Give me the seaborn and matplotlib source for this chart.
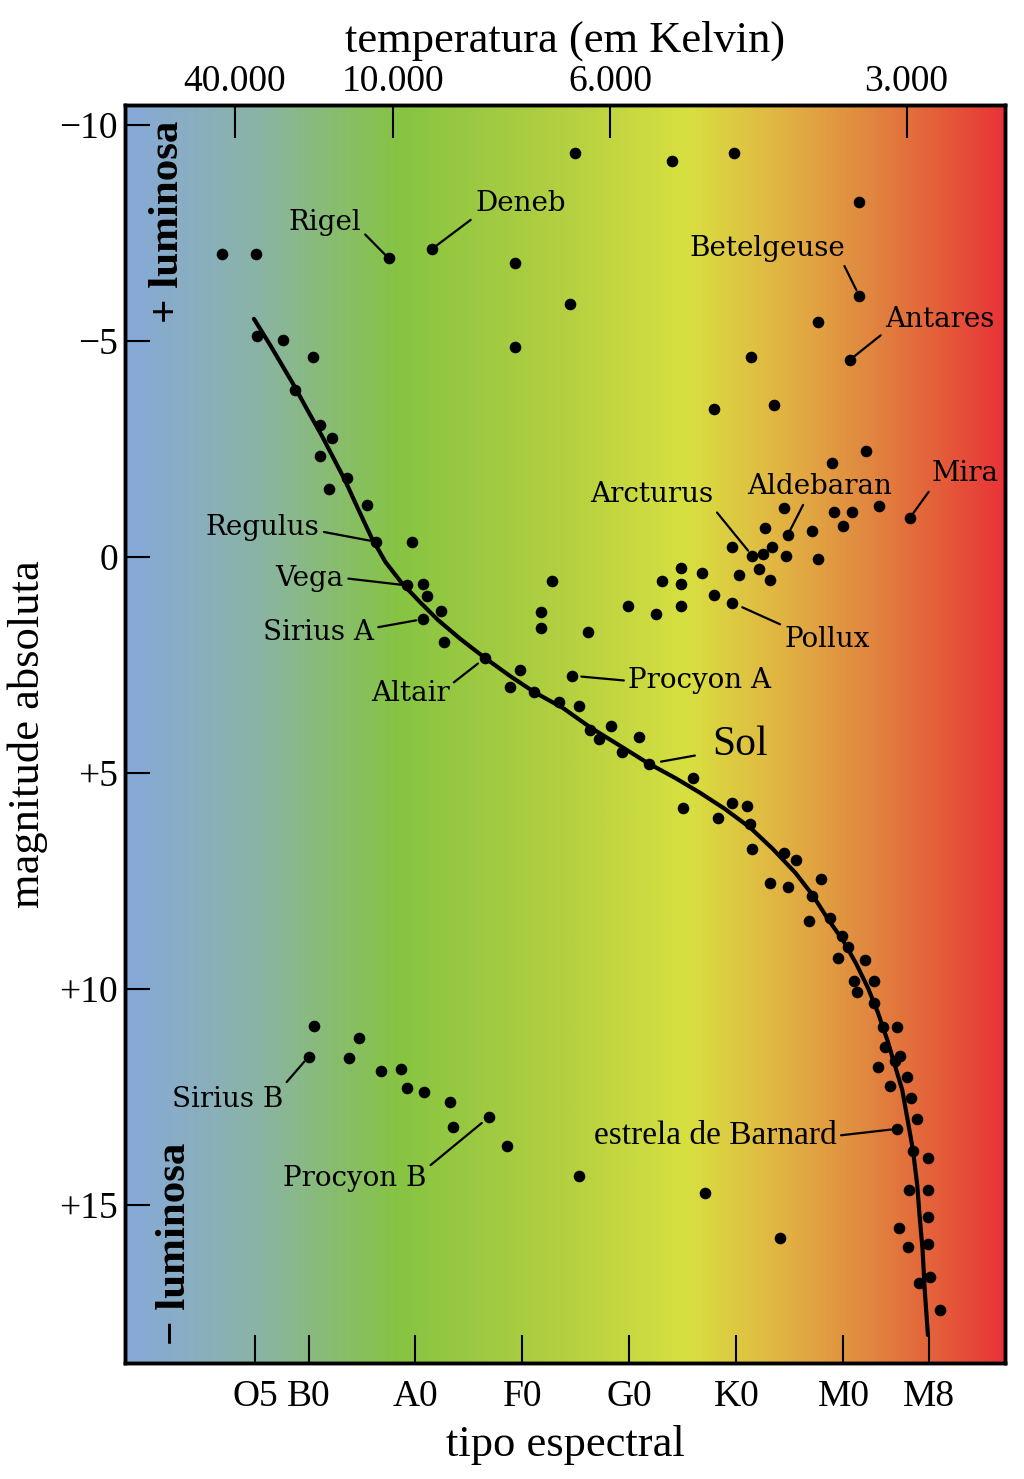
import matplotlib
matplotlib.use("Agg")
import matplotlib.pyplot as plt
import numpy as np
import pandas as pd
import seaborn as sns
from matplotlib.colors import LinearSegmentedColormap

# spectral class index: O0=0, B0=1, A0=2, F0=3, G0=4, K0=5, M0=6
SPEC_TICKS = [0.5, 1, 2, 3, 4, 5, 6, 6.8]
SPEC_LABELS = ["O5", "B0", "A0", "F0", "G0", "K0", "M0", "M8"]
TEMP_TICKS = [0.31, 1.79, 3.82, 6.59]
TEMP_LABELS = ["40.000", "10.000", "6.000", "3.000"]
MAG_TICKS = [-10, -5, 0, 5, 10, 15]
MAG_LABELS = ["\u221210", "\u22125", "0", "+5", "+10", "+15"]

# giants and supergiants
giant_x = [0.19, 0.51, 1.75, 2.15, 2.93, 2.93, 3.44, 3.49, 4.40, 4.98, 6.15, 6.15,
           5.76, 6.06, 5.14, 4.79, 5.35, 6.21, 5.89, 6.33, 6.62, 5.91, 6.08, 6.00,
           5.44, 5.27, 5.48, 5.71, 5.33, 4.96, 5.15, 5.25, 5.46, 5.76, 5.21, 5.31,
           5.02, 4.68, 4.48, 4.48, 4.30, 4.79, 4.96, 4.48, 4.25, 3.99, 3.61, 3.28,
           3.17, 3.17]
giant_mag = [-7.0, -7.0, -6.91, -7.12, -6.80, -4.87, -5.86, -9.36, -9.17, -9.34, -8.22, -6.03,
             -5.43, -4.56, -4.62, -3.42, -3.52, -2.46, -2.17, -1.18, -0.90, -1.03, -1.03, -0.72,
             -1.13, -0.66, -0.51, -0.61, -0.24, -0.24, -0.02, -0.07, -0.02, 0.05, 0.28, 0.53,
             0.42, 0.38, 0.26, 0.63, 0.56, 0.88, 1.06, 1.13, 1.32, 1.13, 1.74, 0.55,
             1.27, 1.64]

# main sequence stars
ms_x = [0.52, 0.76, 1.04, 0.87, 1.11, 1.22, 1.11, 1.36, 1.19, 1.55, 1.63, 1.97,
        1.92, 2.07, 2.11, 2.24, 2.07, 2.27, 2.65, 2.98, 2.88, 3.11, 3.34, 3.53,
        3.46, 3.63, 3.83, 3.72, 4.09, 3.93, 4.18, 4.59, 4.50, 4.96, 5.10, 4.83,
        5.13, 5.15, 5.44, 5.56, 5.31, 5.48, 5.79, 5.71, 5.68, 5.87, 5.99, 6.04,
        5.95, 6.20, 6.10, 6.29, 6.13, 6.29, 6.37, 6.50, 6.39, 6.53, 6.48, 6.32,
        6.59, 6.44, 6.63, 6.69, 6.50, 6.65, 6.79, 6.61, 6.79, 6.79, 6.52, 6.60,
        6.79, 6.81, 6.71, 6.90, 4.71, 5.41, 3.53]
ms_mag = [-5.12, -5.02, -4.62, -3.87, -3.06, -2.75, -2.34, -1.82, -1.58, -1.20, -0.35, -0.35,
          0.66, 0.63, 0.91, 1.25, 1.44, 1.98, 2.34, 2.62, 3.02, 3.12, 3.36, 3.44,
          2.75, 4.00, 3.91, 4.22, 4.16, 4.51, 4.79, 5.11, 5.81, 5.69, 5.76, 6.05,
          6.19, 6.76, 6.86, 7.01, 7.55, 7.63, 7.45, 7.86, 8.43, 8.36, 8.77, 9.02,
          9.28, 9.33, 9.81, 9.81, 10.08, 10.33, 10.87, 10.89, 11.34, 11.55, 11.68, 11.81,
          12.03, 12.25, 12.53, 13.01, 13.24, 13.75, 13.91, 14.65, 14.65, 15.28, 15.53, 15.97,
          15.91, 16.66, 16.80, 17.43, 14.72, 15.76, 14.34]

# white dwarfs
dwarf_x = [1.05, 1.00, 1.47, 1.38, 1.68, 1.86, 1.92, 2.08, 2.32, 2.35, 2.69, 2.86]
dwarf_mag = [10.85, 11.57, 11.13, 11.59, 11.89, 11.86, 12.30, 12.38, 12.62, 13.19, 12.96, 13.63]

# main sequence line
curve_x = [0.49, 0.64, 0.85, 0.99, 1.13, 1.34, 1.46, 1.59, 1.72, 1.87, 2.04, 2.21,
           2.42, 2.65, 2.88, 3.11, 3.38, 3.63, 3.93, 4.17, 4.43, 4.66, 4.89, 5.13,
           5.34, 5.55, 5.71, 5.86, 6.00, 6.12, 6.23, 6.32, 6.41, 6.48, 6.55, 6.60,
           6.65, 6.69, 6.71, 6.74, 6.76, 6.79]
curve_mag = [-5.51, -4.91, -4.03, -3.40, -2.78, -1.78, -1.13, -0.44, 0.12, 0.60, 1.04, 1.46,
             1.90, 2.34, 2.75, 3.13, 3.50, 3.94, 4.40, 4.77, 5.12, 5.46, 5.83, 6.27,
             6.76, 7.31, 7.82, 8.40, 8.89, 9.42, 9.98, 10.53, 11.18, 11.76, 12.34, 13.03,
             13.73, 14.54, 15.19, 16.04, 16.97, 18.01]

# named stars
star_names = ["Rigel", "Deneb", "Betelgeuse", "Antares", "Regulus", "Vega", "Sirius A",
              "Altair", "Procyon A", "Sol", "Arcturus", "Aldebaran", "Mira", "Pollux",
              "Sirius B", "Procyon B", "estrela de Barnard"]
star_x = [1.75, 2.15, 6.15, 6.06, 1.63, 1.92, 2.07, 2.65, 3.46, 4.18, 5.15, 5.48, 6.62,
          4.96, 1.00, 2.69, 6.50]
star_mag = [-6.91, -7.12, -6.03, -4.56, -0.35, 0.66, 1.44, 2.34, 2.75, 4.79, -0.02, -0.51,
            -0.90, 1.06, 11.57, 12.96, 13.24]

# label placement (data coords), leader start on text box, gap at the star (pt)
label_pos = {
    "Rigel": (1.15, -7.75), "Deneb": (2.98, -8.19), "Betelgeuse": (5.29, -7.15),
    "Antares": (6.90, -5.49), "Regulus": (0.57, -0.69), "Vega": (1.01, 0.49),
    "Sirius A": (1.09, 1.74), "Altair": (1.95, 3.17), "Procyon A": (4.66, 2.87),
    "Sol": (5.03, 4.35), "Arcturus": (4.21, -1.44), "Aldebaran": (5.78, -1.62),
    "Mira": (7.14, -1.92), "Pollux": (5.85, 1.92), "Sirius B": (0.24, 12.57),
    "Procyon B": (1.43, 14.38), "estrela de Barnard": (4.80, 13.40),
}
label_rel = {
    "Rigel": (1.0, 0.2), "Deneb": (0.0, 0.0), "Betelgeuse": (0.98, 0.0),
    "Antares": (0.0, 0.05), "Regulus": (1.0, 0.35), "Vega": (1.0, 0.5),
    "Sirius A": (1.0, 0.65), "Altair": (1.0, 0.8), "Procyon A": (0.0, 0.5),
    "Sol": (0.0, 0.3), "Arcturus": (1.0, 0.0), "Aldebaran": (0.4, 0.0),
    "Mira": (0.0, 0.0), "Pollux": (0.0, 1.0), "Sirius B": (1.0, 1.0),
    "Procyon B": (1.0, 0.85), "estrela de Barnard": (1.0, 0.5),
}
label_gap = {
    "Rigel": 2.5, "Deneb": 2.5, "Betelgeuse": 5, "Antares": 3, "Regulus": 4,
    "Vega": 4, "Sirius A": 5, "Altair": 6.5, "Procyon A": 7, "Sol": 9,
    "Arcturus": 5, "Aldebaran": 4, "Mira": 3, "Pollux": 8, "Sirius B": 4.5,
    "Procyon B": 7, "estrela de Barnard": 4,
}

XLIM = (-0.715, 7.51)
YLIM = (18.66, -10.46)

sns.set_style("ticks")
plt.rcParams["font.family"] = ["Liberation Serif", "DejaVu Serif"]
plt.rcParams.update({"text.color": "black", "axes.labelcolor": "black",
                     "xtick.color": "black", "ytick.color": "black"})

fig = plt.figure(figsize=(10.24, 14.79), dpi=100)
ax = fig.add_axes([0.1221, 0.0784, 0.8593, 0.8506])

bg = LinearSegmentedColormap.from_list("spec", [
    (0.0, "#87a9da"), (0.15, "#8ab4a6"), (0.31, "#86c443"), (0.50, "#b4d040"),
    (0.64, "#d8e040"), (0.75, "#e2b243"), (0.84, "#e08a40"), (0.93, "#e45c3a"),
    (1.0, "#e83338")])
ax.imshow(np.linspace(0, 1, 512)[None, :], aspect="auto", cmap=bg,
          extent=(0, 1, 0, 1), transform=ax.transAxes, zorder=0)

stars = pd.concat([
    pd.DataFrame({"x": giant_x, "mag": giant_mag}),
    pd.DataFrame({"x": ms_x, "mag": ms_mag}),
    pd.DataFrame({"x": dwarf_x, "mag": dwarf_mag}),
], ignore_index=True)
curve = pd.DataFrame({"x": curve_x, "mag": curve_mag})

sns.lineplot(data=curve, x="x", y="mag", sort=False, color="black", lw=3, ax=ax, zorder=2)
sns.scatterplot(data=stars, x="x", y="mag", color="black", s=70, linewidth=0, ax=ax, zorder=3)

for name, sx, sm in zip(star_names, star_x, star_mag):
    tx, tm = label_pos[name]
    if name == "Sol":
        font = dict(fontsize=30, family=["Liberation Serif"])
    elif name == "estrela de Barnard":
        font = dict(fontsize=24, family=["Liberation Serif"])
    else:
        font = dict(fontsize=20, family=["DejaVu Serif"])
    ax.annotate(name, xy=(sx, sm), xytext=(tx, tm), textcoords="data",
                ha="center", va="center", zorder=4,
                arrowprops=dict(arrowstyle="-", color="black", lw=1.6,
                                relpos=label_rel[name],
                                shrinkA=10 if name == "Sol" else 1,
                                shrinkB=label_gap[name]), **font)

ax.text(0.049, 0.907, "+ luminosa", rotation=90, transform=ax.transAxes,
        ha="center", va="center", fontsize=31, fontweight="bold")
ax.text(0.057, 0.095, "\u2212 luminosa", rotation=90, transform=ax.transAxes,
        ha="center", va="center", fontsize=31, fontweight="bold")

ax.set_xlim(*XLIM)
ax.set_ylim(*YLIM)
ax.set_xticks(SPEC_TICKS)
ax.set_xticklabels(SPEC_LABELS)
ax.set_yticks(MAG_TICKS)
ax.set_yticklabels(MAG_LABELS)
ax.tick_params(axis="x", direction="in", length=20, width=1.5, labelsize=27, pad=12)
ax.tick_params(axis="y", direction="in", length=18, width=1.5, labelsize=27, pad=5)
ax.set_xlabel("tipo espectral", fontsize=32, labelpad=8)
ax.set_ylabel("magnitude absoluta", fontsize=32, labelpad=8)

ax2 = ax.twiny()
ax2.set_xlim(*XLIM)
ax2.set_xticks(TEMP_TICKS)
ax2.set_xticklabels(TEMP_LABELS)
ax2.tick_params(axis="x", direction="in", length=24, width=1.5, labelsize=27, pad=4)
ax2.set_xlabel("temperatura (em Kelvin)", fontsize=32, labelpad=10)

for a in (ax, ax2):
    for sp in a.spines.values():
        sp.set_linewidth(2.5)
        sp.set_color("black")

fig.savefig("out.png", dpi=100)
plt.close(fig)
